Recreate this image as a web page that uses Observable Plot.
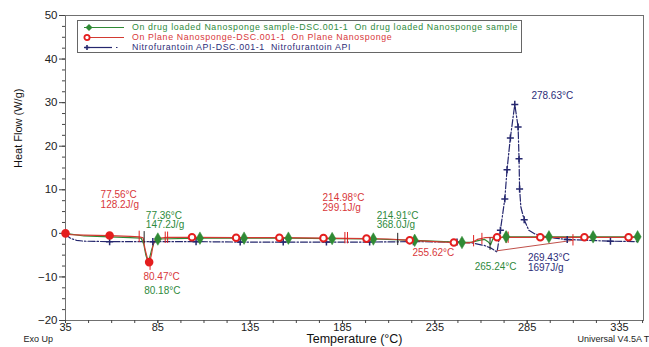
<!DOCTYPE html>
<html><head><meta charset="utf-8">
<script src="https://cdn.jsdelivr.net/npm/d3@7"></script>
<script src="https://cdn.jsdelivr.net/npm/@observablehq/plot@0.6"></script>
<style>
body{margin:0;background:#fff;font-family:"Liberation Sans",Arial,sans-serif;}
#wrap{position:relative;width:649px;height:347px;}
#legend{position:absolute;left:77px;top:20px;width:445px;height:33px;border:1px solid #666;box-sizing:border-box;background:#fff;font-size:8.8px;line-height:10.3px;padding-top:0.5px;letter-spacing:0.62px;}
.row{position:relative;height:10.3px;white-space:pre;}
.row svg{position:absolute;left:4px;top:1px;}
.row span{position:absolute;left:54px;top:0px;}
</style></head>
<body><div id="wrap"></div>
<script>
// ---- data ----
const xTicks = [35, 85, 135, 185, 235, 285, 335];
const yTicks = [-20, -10, 0, 10, 20, 30, 40, 50];

// On Plane Nanosponge (red)
const redT = [35, 38, 45, 58.9, 70, 75, 77, 78, 79.5, 80.5, 81.5, 82.5, 84, 90, 103.5, 127.4, 150.8, 174.7, 198, 210, 222, 235, 245, 250, 253, 255.6, 258, 262, 268.7, 292, 316, 340, 345];
const redV = [0, -0.3, -0.4, -0.5, -0.7, -0.8, -1.0, -3.5, -6.0, -6.6, -5.0, -2.5, -1.2, -0.9, -0.9, -1.0, -1.0, -1.1, -1.2, -1.3, -1.6, -1.9, -2.1, -2.2, -2.2, -2.0, -1.4, -1.0, -0.9, -0.9, -0.9, -0.9, -0.9];
const redMarkT = [35, 58.9, 80.3, 103.5, 127.4, 150.8, 174.7, 198.0, 221.4, 245.3, 268.7, 292.1, 316.0, 339.9];
const redMarkV = [0, -0.5, -6.6, -0.9, -1.0, -1.0, -1.1, -1.2, -1.6, -2.1, -0.9, -0.9, -0.9, -0.9];

// On drug loaded Nanosponge sample (green)
const greenT = [35, 45, 59, 70, 76, 77.4, 78.5, 79.5, 80.2, 81.5, 83, 85, 107.8, 131.7, 155.7, 179.4, 201.7, 224.1, 240, 249.7, 255, 259, 262, 264, 265.2, 266.5, 273.6, 296.8, 320.7, 344.8];
const greenV = [0, -0.6, -0.8, -1.0, -1.1, -2.5, -5.0, -6.3, -6.2, -4.0, -2.0, -1.3, -1.1, -1.1, -1.1, -1.2, -1.3, -1.6, -1.9, -2.1, -2.0, -1.6, -1.4, -2.0, -2.6, -1.2, -0.8, -0.8, -0.8, -0.8];
const greenMarkT = [85, 107.8, 131.7, 155.7, 179.4, 201.7, 224.1, 249.7, 273.6, 296.8, 320.7, 344.8];
const greenMarkV = [-1.3, -1.1, -1.1, -1.1, -1.2, -1.3, -1.6, -2.1, -0.8, -0.8, -0.8, -0.8];

// Nitrofurantoin API (navy)
const navyT = [35, 36, 38, 41, 45, 58.9, 82.3, 105.7, 129.6, 152.9, 176.3, 199.7, 223.4, 247, 255, 262, 265.5, 268.7, 270.5, 272.9, 274.1, 275.9, 278.3, 280.1, 280.6, 280.9, 281.6, 283.4, 285.9, 289, 292.2, 300, 306.7, 330.1, 345];
const navyV = [0, -0.6, -1.2, -1.6, -1.8, -1.9, -1.9, -1.9, -2.0, -2.0, -2.0, -2.0, -1.9, -2.0, -2.2, -2.8, -3.4, -4.3, 0.7, 7.9, 14.6, 21.9, 29.6, 24.4, 17.1, 10.2, 6.0, 3.1, 0.7, -0.1, -0.5, -1.1, -1.4, -1.8, -1.9];
const navyMarkT = [58.9, 82.3, 105.7, 129.6, 152.9, 176.3, 199.7, 223.4, 247, 270.5, 272.9, 274.1, 275.9, 278.3, 280.1, 280.6, 280.9, 283.4, 306.7, 330.1];
const navyMarkV = [-1.9, -1.9, -1.9, -2.0, -2.0, -2.0, -2.0, -1.9, -2.0, 0.7, 7.9, 14.6, 21.9, 29.6, 24.4, 17.1, 10.2, 3.1, -1.4, -1.8];

// integration baseline under the API peak
const peakBaseT = [268.7, 309.8];
const peakBaseV = [-4.0, -1.6];

// integration limit marks
const redLimT = [74.9, 89.0, 90.3, 186.3, 187.7, 256.0, 260.5, 273.6, 274.7, 309.8, 80.8];
const redLimV = [-0.8, -1.0, -1.0, -1.1, -1.1, -1.8, -1.3, -1.0, -1.0, -1.6, -7.2];
const blackLimT = [77.6, 214.9, 264.9];
const blackLimV = [-1.0, -1.4, -2.5];

// annotations
const redAnnT = [54.0, 77.2, 174.2, 222.9];
const redAnnV = [7.67, -10.1, 7.0, -4.6];
const redAnnText = ["77.56°C\n128.2J/g", "80.47°C", "214.98°C\n299.1J/g", "255.62°C"];
const greenAnnT = [78.5, 77.6, 203.5, 256.6];
const greenAnnV = [2.96, -13.3, 2.96, -7.8];
const greenAnnText = ["77.36°C\n147.2J/g", "80.18°C", "214.91°C\n368.0J/g", "265.24°C"];
const navyAnnT = [287.3, 285.4];
const navyAnnV = [31.6, -6.8];
const navyAnnText = ["278.63°C", "269.43°C\n1697J/g"];

const legendLabels = [
  "On drug loaded Nanosponge sample-DSC.001-1  On drug loaded Nanosponge sample",
  "On Plane Nanosponge-DSC.001-1  On Plane Nanosponge",
  "Nitrofurantoin API-DSC.001-1  Nitrofurantoin API"
];

// ---- styles ----
const RED = "#d23a32", GREEN = "#2f8a34", NAVY = "#25276e";
const RED_TXT = "#d8373a", GREEN_TXT = "#2e8a3c", NAVY_TXT = "#2c2d78";

const pts = (T, V) => T.map((t, i) => ({t, v: V[i]}));
const ann = (T, V, S) => T.map((t, i) => ({t, v: V[i], s: S[i]}));

const xMinor = d3.range(35, 349, 12.5);
const yMinor = d3.range(-20, 50.01, 2.5);

const chart = Plot.plot({
  width: 649, height: 347,
  marginLeft: 65, marginRight: 6, marginTop: 15, marginBottom: 27,
  x: {domain: [35, 348], axis: null, label: null},
  y: {domain: [-20, 50], axis: null, label: null},
  style: {fontFamily: "Liberation Sans, Arial, sans-serif", background: "white", overflow: "visible"},
  marks: [
    Plot.frame({stroke: "#707070"}),
    Plot.axisY(yMinor, {tickSize: 3, tickFormat: () => "", stroke: "#444", label: null}),
    Plot.axisY(yTicks, {tickSize: 6, tickPadding: 2, fontSize: 11.5, stroke: "#444", fill: "#222", label: null}),
    Plot.axisX(xMinor, {tickSize: 3, tickFormat: () => "", stroke: "#444", label: null}),
    Plot.axisX(xTicks, {tickSize: 3, tickPadding: 0, fontSize: 11, stroke: "#444", fill: "#222", label: null}),
    Plot.text(["Heat Flow (W/g)"], {frameAnchor: "left", rotate: -90, dx: -47, fontSize: 11, fill: "#111", text: d => d}),
    Plot.text(["Temperature (°C)"], {frameAnchor: "bottom", dy: 22.5, fontSize: 12.5, fill: "#111", text: d => d}),
    Plot.text(["Exo Up"], {frameAnchor: "bottom-left", textAnchor: "start", dx: -42, dy: 21, fontSize: 9, fill: "#222", text: d => d}),
    Plot.text(["Universal V4.5A T"], {frameAnchor: "bottom-right", textAnchor: "start", dx: -66, dy: 21, fontSize: 9, fill: "#222", text: d => d}),

    Plot.line(pts(navyT, navyV), {x: "t", y: "v", stroke: NAVY, strokeWidth: 1.2, strokeDasharray: "7,2,1.5,2"}),
    Plot.line(pts(greenT, greenV), {x: "t", y: "v", stroke: GREEN, strokeWidth: 1.2}),
    Plot.line(pts(redT, redV), {x: "t", y: "v", stroke: RED, strokeWidth: 1.2}),
    Plot.line(pts(peakBaseT, peakBaseV), {x: "t", y: "v", stroke: "#c0504a", strokeWidth: 1}),

    Plot.ruleX(pts(redLimT, redLimV), {x: "t", y1: d => d.v - 1.3, y2: d => d.v + 1.3, stroke: "#e02020", strokeWidth: 1}),
    Plot.ruleX(pts(blackLimT, blackLimV), {x: "t", y1: d => d.v - 1.4, y2: d => d.v + 1.4, stroke: "#222", strokeWidth: 1}),

    Plot.dot(pts(navyMarkT, navyMarkV), {x: "t", y: "v", symbol: "plus", r: 2.4, stroke: NAVY, strokeWidth: 1.5}),
    Plot.dot(pts(greenMarkT, greenMarkV), {x: "t", y: "v", symbol: "diamond", r: 3.8, fill: GREEN, stroke: GREEN, strokeWidth: 0.5}),
    Plot.dot(pts(redMarkT, redMarkV), {x: "t", y: "v", symbol: "circle", r: 3.3, stroke: "#e41e1e", strokeWidth: 2, fill: (d, i) => i < 3 ? "#e41e1e" : "white"}),

    Plot.text(ann(redAnnT, redAnnV, redAnnText), {x: "t", y: "v", text: "s", textAnchor: "start", fontSize: 10, lineHeight: 0.95, fill: RED_TXT}),
    Plot.text(ann(greenAnnT, greenAnnV, greenAnnText), {x: "t", y: "v", text: "s", textAnchor: "start", fontSize: 10, lineHeight: 0.95, fill: GREEN_TXT}),
    Plot.text(ann(navyAnnT, navyAnnV, navyAnnText), {x: "t", y: "v", text: "s", textAnchor: "start", fontSize: 10, lineHeight: 0.95, fill: NAVY_TXT})
  ]
});

const wrap = document.getElementById("wrap");
wrap.appendChild(chart);

// legend (inside plot area, as in the reference)
const lg = document.createElement("div");
lg.id = "legend";
const swatches = [
  `<svg width="44" height="9"><line x1="2" y1="4.5" x2="42" y2="4.5" stroke="${GREEN}" stroke-width="1.2"/><path d="M7,1 L10.5,4.5 L7,8 L3.5,4.5Z" fill="${GREEN}"/></svg>`,
  `<svg width="44" height="9"><line x1="2" y1="4.5" x2="42" y2="4.5" stroke="${RED}" stroke-width="1.2"/><circle cx="5" cy="4.5" r="2.6" fill="white" stroke="#e41e1e" stroke-width="1.8"/></svg>`,
  `<svg width="44" height="9"><line x1="2" y1="4.5" x2="30" y2="4.5" stroke="${NAVY}" stroke-width="1.2"/><line x1="34" y1="4.5" x2="35.5" y2="4.5" stroke="${NAVY}" stroke-width="1.2"/><path d="M5,2 V7 M2.5,4.5 H7.5" stroke="${NAVY}" stroke-width="1.6"/></svg>`
];
const cols = [GREEN_TXT, RED_TXT, NAVY_TXT];
lg.innerHTML = legendLabels.map((l, i) =>
  `<div class="row">${swatches[i]}<span style="color:${cols[i]}">${l}</span></div>`).join("");
wrap.appendChild(lg);
</script>
</body></html>
